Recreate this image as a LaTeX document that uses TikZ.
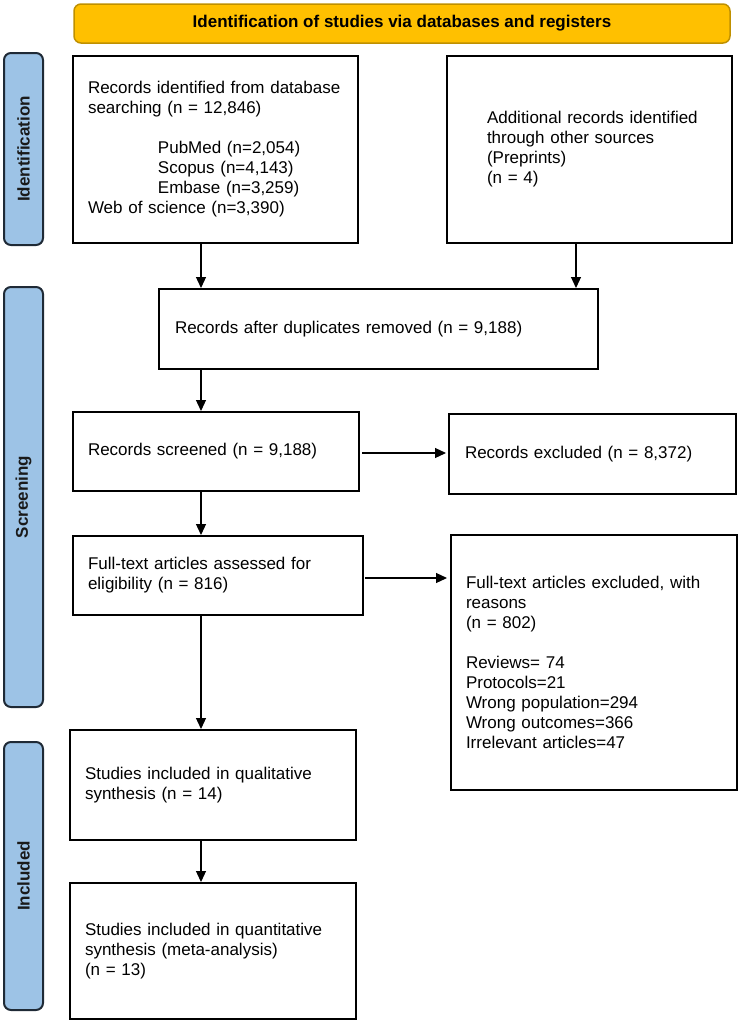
\documentclass[tikz,border=0pt]{standalone}
\usepackage{fontspec}
\setmainfont{Liberation Sans}
\usetikzlibrary{arrows.meta}
\definecolor{hdrfill}{HTML}{FFC000}
\definecolor{hdrline}{HTML}{BF9000}
\definecolor{sidefill}{HTML}{9DC3E6}
\definecolor{sideline}{HTML}{1F2A36}
\definecolor{sidetext}{HTML}{1A1A1A}
\begin{document}
\begin{tikzpicture}[x=1pt,y=-1pt,
  box/.style={draw, line width=2pt, align=left, inner ysep=0pt, inner xsep=15pt,
    font=\fontsize{17}{20}\selectfont},
  hdr/.style={draw=hdrline, fill=hdrfill, line width=1.5pt, rounded corners=7pt,
    font=\fontsize{17}{20}\selectfont\bfseries},
  side/.style={draw=sideline, fill=sidefill, line width=2pt, rounded corners=7pt,
    rotate=90, text=sidetext, font=\fontsize{17}{20}\selectfont\bfseries},
  arr/.style={-{Triangle[length=11pt,width=10pt]}, line width=1.2pt}]
\useasboundingbox (0,0) rectangle (738,1021);

\node[hdr, minimum width=656, minimum height=39] (hd) at (402,23.5)
  {Identification of studies via databases and registers};

\node[side, minimum width=192, minimum height=39] (sid) at (23.5,149) {Identification};
\node[side, minimum width=420, minimum height=39] (ssc) at (23.5,497) {Screening};
\node[side, minimum width=268, minimum height=39] (sin) at (23.5,876) {Included};

\node[box, minimum width=285, minimum height=187, text width=255] (b1) at (215.5,149.5)
  {Records identified from database\\
   searching (n = 12,846)\\[20pt]
   \hspace*{70pt}PubMed (n=2,054)\\
   \hspace*{70pt}Scopus (n=4,143)\\
   \hspace*{70pt}Embase (n=3,259)\\
   Web of science (n=3,390)};

\node[box, minimum width=285, minimum height=187, text width=255] (b2) at (589.5,149.5)
  {\hspace*{25pt}Additional records identified\\
   \hspace*{25pt}through other sources\\
   \hspace*{25pt}(Preprints)\\
   \hspace*{25pt}(n = 4)};

\node[box, minimum width=439, minimum height=80, text width=407, inner xsep=16pt] (b3) at (378.5,329)
  {Records after duplicates removed (n = 9,188)};

\node[box, minimum width=286, minimum height=79, text width=256] (b4) at (216,451.5)
  {Records screened (n = 9,188)};

\node[box, minimum width=287, minimum height=80, text width=255, inner xsep=16pt] (b5) at (592.5,454)
  {Records excluded (n = 8,372)};

\node[box, minimum width=290, minimum height=79, text width=260] (b6) at (218,575.5)
  {Full-text articles assessed for\\
   eligibility (n = 816)};

\node[box, minimum width=286, minimum height=255, text width=256] (b7) at (594,662.5)
  {Full-text articles excluded, with\\
   reasons\\
   (n = 802)\\[20pt]
   Reviews= 74\\
   Protocols=21\\
   Wrong population=294\\
   Wrong outcomes=366\\
   Irrelevant articles=47};

\node[box, minimum width=286, minimum height=110, text width=256] (b8) at (213,785)
  {Studies included in qualitative\\
   synthesis (n = 14)};

\node[box, minimum width=286, minimum height=136, text width=256] (b9) at (213,951)
  {Studies included in quantitative\\
   synthesis (meta-analysis)\\
   (n = 13)};

\coordinate (c1) at (201,0);
\coordinate (c2) at (576,0);
\coordinate (r1) at (0,453);
\coordinate (r2) at (0,578);

\draw[arr] (b1.south -| c1) -- (b3.north -| c1);
\draw[arr] (b2.south -| c2) -- (b3.north -| c2);
\draw[arr] (b3.south -| c1) -- (b4.north -| c1);
\draw[arr] (b4.south -| c1) -- (b6.north -| c1);
\draw[arr] (b6.south -| c1) -- (b8.north -| c1);
\draw[arr] (b8.south -| c1) -- (b9.north -| c1);
\draw[arr] ([xshift=2pt]b4.east |- r1) -- ([xshift=-2pt]b5.west |- r1);
\draw[arr] ([xshift=1pt]b6.east |- r2) -- ([xshift=-3pt]b7.west |- r2);
\end{tikzpicture}
\end{document}
